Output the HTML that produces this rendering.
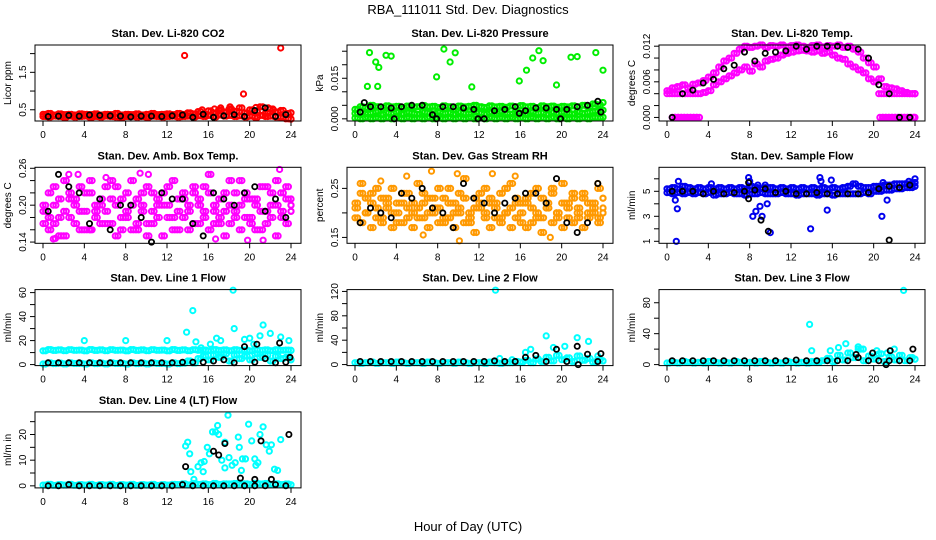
<!DOCTYPE html>
<html><head><meta charset="utf-8"><style>
body{margin:0;background:#fff}
svg{display:block;font-family:"Liberation Sans",Arial,sans-serif}
</style></head><body>
<svg id="c" width="936" height="540">
<text x="468" y="14" text-anchor="middle" font-size="13">RBA_111011  Std. Dev. Diagnostics</text>
<text x="468" y="531" text-anchor="middle" font-size="13">Hour of Day (UTC)</text>
</svg>
<script>
const HOURS=[0,0.5,1,1.5,2,2.5,3,3.5,4,4.5,5,5.5,6,6.5,7,7.5,8,8.5,9,9.5,10,10.5,11,11.5,12,12.5,13,13.5,14,14.5,15,15.5,16,16.5,17,17.5,18,18.5,19,19.5,20,20.5,21,21.5,22,22.5,23,23.5,24];
const BLK_HOURS=[0.5,1.5,2.5,3.5,4.5,5.5,6.5,7.5,8.5,9.5,10.5,11.5,12.5,13.5,14.5,15.5,16.5,17.5,18.5,19.5,20.5,21.5,22.5,23.5];
const X_TICKS=[0,4,8,12,16,20,24];

const CO2_A=[0.38,0.40,0.36,0.39,0.37,0.38,0.36,0.39,0.38,0.37,0.39,0.36,0.38,0.37,0.40,0.36,0.38,0.37,0.39,0.36,0.38,0.40,0.37,0.38,0.39,0.37,0.40,0.38,0.42,0.39,0.45,0.38,0.47,0.42,0.50,0.44,0.52,0.46,0.55,0.42,0.50,0.45,0.58,0.40,0.52,0.44,0.48,0.40,0.42];
const CO2_B=[0.32,0.31,0.33,0.32,0.30,0.33,0.31,0.32,0.33,0.30,0.32,0.31,0.33,0.32,0.31,0.30,0.32,0.33,0.31,0.32,0.30,0.33,0.32,0.31,0.32,0.33,0.31,0.32,0.33,0.31,0.34,0.32,0.35,0.31,0.36,0.33,0.35,0.32,0.34,0.31,0.33,0.30,0.35,0.32,0.33,0.31,0.30,0.26,0.25];
const CO2_OUT_X=[13.7,23.0,19.4,15.4,16.6,17.2,18.1,20.6,21.8,22.3];
const CO2_OUT_Y=[1.95,2.15,0.92,0.50,0.52,0.55,0.58,0.56,0.55,0.50];
const CO2_K=[0.32,0.33,0.35,0.33,0.36,0.35,0.34,0.33,0.31,0.33,0.33,0.32,0.34,0.36,0.30,0.38,0.30,0.34,0.37,0.32,0.48,0.55,0.32,0.37];

const PR_A=[0.0035,0.0045,0.0040,0.0050,0.0045,0.0042,0.0048,0.0044,0.0046,0.0040,0.0047,0.0043,0.0045,0.0049,0.0044,0.0046,0.0042,0.0048,0.0045,0.0043,0.0047,0.0044,0.0046,0.0050,0.0045,0.0042,0.0048,0.0044,0.0046,0.0043,0.0047,0.0045,0.0049,0.0044,0.0046,0.0042,0.0048,0.0045,0.0047,0.0043,0.0046,0.0044,0.0048,0.0045,0.0050,0.0046,0.0055,0.0052,0.0060];
const PR_B=[0.0003,0.0000,0.0005,0.0000,0.0003,0.0000,0.0005,0.0000,0.0003,0.0000,0.0004,0.0000,0.0003,0.0000,0.0005,0.0000,0.0003,0.0000,0.0004,0.0000,0.0003,0.0000,0.0005,0.0000,0.0003,0.0000,0.0004,0.0000,0.0003,0.0000,0.0005,0.0000,0.0003,0.0000,0.0004,0.0000,0.0003,0.0000,0.0005,0.0000,0.0003,0.0000,0.0004,0.0000,0.0003,0.0000,0.0005,0.0004,0.0006];
const PR_C=[0.0020,0.0025,0.0018,0.0022,0.0027,0.0016,0.0023,0.0020,0.0026,0.0018,0.0024,0.0021,0.0017,0.0025,0.0022,0.0019,0.0026,0.0020,0.0023,0.0017,0.0025,0.0021,0.0019,0.0026,0.0022,0.0018,0.0024,0.0020,0.0027,0.0021,0.0018,0.0025,0.0022,0.0019,0.0026,0.0021,0.0023,0.0017,0.0025,0.0020,0.0024,0.0022,0.0018,0.0026,0.0021,0.0024,0.0028,0.0030,0.0032];
const PR_OUT_X=[1.4,2.0,2.3,1.2,2.2,3.0,3.5,8.6,9.7,9.2,7.9,11.3,17.8,17.2,18.2,16.6,15.9,19.5,20.9,21.5,23.3,24.0];
const PR_OUT_Y=[0.0245,0.0210,0.0190,0.0120,0.0120,0.0235,0.0232,0.0258,0.0244,0.0210,0.0155,0.0118,0.0252,0.0225,0.0215,0.0180,0.0140,0.0125,0.0228,0.0230,0.0245,0.0180];
const PR_K=[0.0025,0.0045,0.0045,0.0040,0.0045,0.0050,0.0050,0.0015,0.0045,0.0045,0.0040,0.0035,0.0000,0.0030,0.0035,0.0045,0.0030,0.0040,0.0040,0.0035,0.0035,0.0045,0.0050,0.0065];
const PR_KX_EXTRA=[0.9,3.8,7.9,11.9,19.9,15.9,23.8];
const PR_KY_EXTRA=[0.0060,0.0000,0.0000,0.0000,0.0000,0.0020,0.0025];

const TM_A=[0.0045,0.0050,0.0052,0.0055,0.0050,0.0056,0.0058,0.0062,0.0068,0.0075,0.0085,0.0095,0.0100,0.0108,0.0115,0.0120,0.0118,0.0120,0.0122,0.0118,0.0121,0.0120,0.0122,0.0119,0.0121,0.0122,0.0120,0.0118,0.0121,0.0122,0.0119,0.0121,0.0120,0.0122,0.0118,0.0120,0.0115,0.0110,0.0100,0.0092,0.0085,0.0065,0.0052,0.0050,0.0048,0.0045,0.0042,0.0040,0.0040];
const TM_B=[0.0040,0.0040,0.0040,0.0040,0.0040,0.0040,0.0040,0.0042,0.0045,0.0055,0.0060,0.0065,0.0070,0.0075,0.0080,0.0085,0.0078,0.0090,0.0085,0.0095,0.0098,0.0100,0.0105,0.0108,0.0110,0.0112,0.0113,0.0112,0.0110,0.0112,0.0108,0.0110,0.0105,0.0100,0.0098,0.0090,0.0085,0.0080,0.0075,0.0065,0.0060,0.0040,0.0040,0.0040,0.0040,0.0040,0.0040,0.0040,0.0040];
const TM_ZERO_X=[0.5,0.8,1.1,1.4,1.7,2.0,2.3,2.6,2.9,20.6,20.9,21.2,21.5,21.8,22.1,22.4,22.7,23.0,23.3,23.6,23.9];
const TM_ZERO_Y=[0,0,0,0,0,0,0,0,0,0,0,0,0,0,0,0,0,0,0,0,0];
const TM_K=[0.0000,0.0040,0.0046,0.0058,0.0064,0.0082,0.0088,0.0110,0.0095,0.0108,0.0110,0.0112,0.0120,0.0115,0.0120,0.0120,0.0120,0.0118,0.0115,0.0100,0.0055,0.0040,0.0000,0.0000];

const AM_A=[0.19,0.22,0.17,0.21,0.24,0.18,0.20,0.23,0.16,0.22,0.19,0.21,0.17,0.24,0.20,0.18,0.22,0.16,0.21,0.19,0.23,0.17,0.20,0.22,0.18,0.24,0.19,0.21,0.16,0.23,0.20,0.18,0.22,0.17,0.21,0.19,0.24,0.18,0.20,0.22,0.17,0.21,0.19,0.23,0.18,0.20,0.22,0.17,0.21];
const AM_B=[0.17,0.16,0.20,0.18,0.15,0.21,0.17,0.19,0.22,0.16,0.18,0.20,0.23,0.17,0.15,0.21,0.18,0.20,0.16,0.22,0.17,0.19,0.21,0.15,0.20,0.18,0.16,0.22,0.19,0.17,0.21,0.23,0.16,0.19,0.17,0.15,0.20,0.22,0.16,0.18,0.21,0.16,0.23,0.17,0.20,0.15,0.18,0.21,0.19];
const AM_C=[0.20,0.18,0.23,0.15,0.19,0.22,0.21,0.16,0.19,0.24,0.20,0.17,0.19,0.21,0.23,0.16,0.19,0.24,0.17,0.20,0.15,0.22,0.18,0.20,0.23,0.16,0.21,0.18,0.20,0.22,0.17,0.19,0.25,0.20,0.18,0.22,0.17,0.19,0.24,0.21,0.18,0.20,0.16,0.19,0.22,0.24,0.19,0.23,0.20];
const AM_OUT_X=[2.5,3.4,10.2,9.4,19.8,21.3,22.9,16.7,1.0,1.2,4.6,6.1];
const AM_OUT_Y=[0.250,0.250,0.250,0.252,0.143,0.143,0.258,0.145,0.145,0.146,0.160,0.245];
const AM_K=[0.19,0.25,0.23,0.22,0.17,0.21,0.16,0.20,0.20,0.18,0.14,0.22,0.21,0.21,0.17,0.15,0.22,0.21,0.20,0.22,0.23,0.19,0.21,0.18];

const RH_A=[0.22,0.26,0.20,0.24,0.19,0.23,0.21,0.25,0.18,0.22,0.24,0.20,0.26,0.19,0.23,0.21,0.25,0.18,0.22,0.20,0.24,0.27,0.19,0.23,0.21,0.25,0.22,0.19,0.24,0.20,0.26,0.22,0.18,0.23,0.21,0.25,0.19,0.22,0.24,0.20,0.26,0.21,0.23,0.19,0.24,0.22,0.20,0.25,0.23];
const RH_B=[0.19,0.18,0.23,0.17,0.21,0.18,0.22,0.17,0.20,0.18,0.21,0.17,0.19,0.22,0.17,0.20,0.18,0.23,0.19,0.17,0.21,0.18,0.20,0.16,0.22,0.19,0.17,0.21,0.18,0.20,0.17,0.19,0.22,0.17,0.18,0.20,0.16,0.21,0.18,0.19,0.17,0.22,0.18,0.20,0.17,0.19,0.21,0.18,0.20];
const RH_C=[0.21,0.24,0.20,0.22,0.25,0.19,0.23,0.20,0.22,0.24,0.19,0.22,0.21,0.24,0.20,0.23,0.21,0.19,0.25,0.22,0.20,0.23,0.18,0.21,0.24,0.20,0.23,0.22,0.19,0.25,0.21,0.23,0.20,0.22,0.24,0.19,0.23,0.21,0.25,0.20,0.22,0.19,0.24,0.21,0.23,0.20,0.22,0.19,0.21];
const RH_OUT_X=[5.0,7.4,9.9,13.3,15.5,6.6,23.5,10.1,2.5,18.9];
const RH_OUT_Y=[0.275,0.285,0.280,0.280,0.275,0.155,0.260,0.143,0.265,0.150];
const RH_K=[0.18,0.21,0.20,0.19,0.24,0.23,0.25,0.21,0.20,0.17,0.26,0.23,0.22,0.20,0.22,0.23,0.24,0.24,0.22,0.27,0.18,0.16,0.18,0.26];

const SF_A=[5.2,5.3,5.2,5.4,5.3,5.2,5.3,5.2,5.3,5.2,5.3,5.2,5.3,5.2,5.3,5.2,5.4,5.3,5.2,5.3,5.3,5.2,5.3,5.2,5.3,5.2,5.3,5.2,5.3,5.2,5.3,5.2,5.3,5.2,5.3,5.4,5.6,5.4,5.3,5.3,5.4,5.4,5.5,5.5,5.6,5.6,5.6,5.6,5.7];
const SF_B=[4.9,4.8,4.9,4.8,4.9,4.8,4.9,4.8,4.9,4.7,4.8,4.8,4.9,4.8,4.8,4.7,4.8,4.8,4.9,4.8,4.8,4.8,4.9,4.8,4.8,4.7,4.8,4.8,4.8,4.7,4.8,4.8,4.7,4.8,4.8,4.8,4.8,4.8,4.9,4.8,5.0,5.0,5.1,5.1,5.2,5.2,5.3,5.3,5.4];
const SF_OUT_X=[0.9,1.0,1.1,0.8,7.9,8.0,8.3,8.6,8.8,9.0,9.2,9.5,9.7,10.0,13.9,14.8,14.9,15.9,15.5,20.8,20.9,24.0,23.4,21.3,4.3];
const SF_OUT_Y=[1.0,3.6,5.8,4.3,6.1,5.8,3.0,3.4,5.5,3.8,3.0,5.5,4.0,1.7,2.0,6.1,5.8,5.9,3.5,3.0,5.7,6.0,5.8,4.3,5.6];
const SF_K=[5.0,5.0,5.0,4.8,5.0,4.8,4.9,5.0,5.1,5.2,4.9,5.0,4.8,4.8,4.9,4.8,4.8,4.8,4.8,4.9,5.2,5.4,5.3,5.5];
const SF_KX_EXTRA=[7.9,7.9,9.1,9.8,21.5];
const SF_KY_EXTRA=[5.7,4.4,2.7,1.8,1.1];

const L1_A=[11.5,12.5,11.8,12.2,11.6,12.4,11.9,12.1,11.5,12.5,11.8,12.2,11.6,12.4,11.9,12.1,11.5,12.5,11.8,12.2,11.6,12.4,11.9,12.1,11.5,12.5,11.8,12.2,11.6,12.4,11.9,12.1,11.5,12.5,11.8,12.2,11.6,12.4,11.9,12.1,11.5,12.5,11.8,12.2,11.6,12.4,11.9,12.1,11.8];
const L1_B=[0.5,1.5,0.8,1.2,0.6,1.4,0.9,1.1,0.5,1.5,0.8,1.2,0.6,1.4,0.9,1.1,0.5,1.5,0.8,1.2,0.6,1.4,0.9,1.1,0.5,1.5,0.8,1.2,3.0,1.4,5.0,7.0,4.0,8.0,6.0,9.0,3.0,8.0,5.0,7.0,4.0,9.0,6.0,8.0,3.0,7.0,5.0,6.0,4.0];
const L1_OUT_X=[4.0,8.0,12.0,13.9,14.5,18.4,18.5,19.5,20.0,21.0,21.3,22.0,23.0,23.8,17.2,16.2,15.3,14.8,16.8,20.4];
const L1_OUT_Y=[20,20,20,27,45,62,30,21,22,24,33,26,23,20,20,17,14,19,22,17];
const L1_K=[1.5,1.5,1.5,1.5,1.5,1.5,1.5,1.5,1.5,1.5,1.5,1.5,1.5,2,2,2,3,4,1.5,15,2,5,1.5,2];
const L1_KX_EXTRA=[20.7,22.9,23.9];
const L1_KY_EXTRA=[17,18,6];

const L2_A=[3,2,3,4,2,3,3,2,4,3,2,3,3,2,4,3,2,3,3,2,4,3,2,3,3,2,4,3,2,3,3,5,4,7,3,9,5,12,6,15,8,11,5,14,7,10,4,8,6];
const L2_OUT_X=[13.6,18.5,21.5,22.6,16.5,17.0,19.2,20.3,14.0,15.2,23.5];
const L2_OUT_Y=[122,47,44,38,20,25,28,30,10,8,14];
const L2_K=[5,5,5,5,5,5,5,5,5,5,5,5,5,6,5,5,12,15,5,25,5,30,17,5];
const L2_KX_EXTRA=[23.8,21.6];
const L2_KY_EXTRA=[18,0];

const L3_A=[2,3,2,4,3,2,3,2,4,3,2,3,2,4,3,2,3,2,4,3,2,3,2,4,3,2,3,2,4,3,5,8,4,12,6,15,9,20,5,11,7,14,4,10,6,12,5,9,7];
const L3_OUT_X=[13.8,22.9,17.3,15.8,14.0,18.5,20.3,22.0,16.6,19.0,21.3];
const L3_OUT_Y=[52,96,27,18,18,23,18,20,22,20,15];
const L3_K=[5,5,5,5,5,5,5,5,5,5,5,5,6,5,5,5,5,5,9,5,5,5,5,5];
const L3_KX_EXTRA=[23.8,21.6,19.9,21.2,18.3];
const L3_KY_EXTRA=[20,18,15,0,13];

const L4_A=[0.3,0.6,0.2,0.5,0.3,0.6,0.2,0.5,0.3,0.6,0.2,0.5,0.3,0.6,0.2,0.5,0.3,0.6,0.2,0.5,0.3,0.6,0.2,0.5,0.3,0.6,0.5,0.8,0.4,0.9,0.6,0.8,0.5,0.9,0.6,0.8,0.7,0.9,0.5,0.8,0.6,1.0,0.7,0.9,0.6,0.8,0.5,0.7,0.4];
const L4_OUT_X=[13.8,14.0,14.2,14.6,15.0,15.3,15.6,15.9,16.1,16.4,16.7,16.9,17.0,17.3,17.6,17.9,18.0,18.3,18.6,18.9,19.0,19.3,19.6,19.9,20.2,20.5,20.8,21.0,21.3,21.6,21.9,22.1,22.4,22.7,23.0,14.3,15.5,17.6,19.2,20.6];
const L4_OUT_Y=[15.5,17,12.5,2.5,7.5,9,9.5,15,12.5,21,21,23.5,20,10,17,27.5,11,8,9,19,15,10.5,10.5,24,17.5,10.5,9,20,23,16,13.5,16,6.5,6,18,5.5,5.5,7,6,8];
const L4_K=[0,0,0.5,0,0,0,0,0,0,0,0,0,0,0.5,0,0,0,0,0,0,0,0,0.5,0];
const L4_KX_EXTRA=[13.8,16.5,17.0,17.6,19.1,20.5,21.1,22.1,23.8];
const L4_KY_EXTRA=[7.5,13.5,12,16.5,3,2.5,17.5,2.5,20];

const svg=document.getElementById('c');
const NS='http://www.w3.org/2000/svg';
function mk(tag,attrs,parent){const e=document.createElementNS(NS,tag);for(const k in attrs)e.setAttribute(k,attrs[k]);(parent||svg).appendChild(e);return e;}

const panels=[
 {key:'co2',title:'Stan. Dev. Li-820 CO2',ylab:'Licor ppm',col:0,row:0,ymin:0.2,ymax:2.23,ticks:[0.5,1,1.5,2],labels:['0.5','','1.5',''],color:'#ff0000',
  bg:[[HOURS,CO2_A,1],[HOURS,CO2_B,1],[CO2_OUT_X,CO2_OUT_Y,0]],blk:[[BLK_HOURS,CO2_K]]},
 {key:'pressure',title:'Stan. Dev. Li-820 Pressure',ylab:'kPa',col:1,row:0,ymin:-0.0008,ymax:0.0273,ticks:[0,0.005,0.01,0.015,0.02,0.025],labels:['0.000','','','0.015','',''],color:'#00ee00',
  bg:[[HOURS,PR_A,1],[HOURS,PR_B,1],[HOURS,PR_C,1],[PR_OUT_X,PR_OUT_Y,0]],blk:[[BLK_HOURS,PR_K],[PR_KX_EXTRA,PR_KY_EXTRA]]},
 {key:'temp',title:'Stan. Dev. Li-820 Temp.',ylab:'degrees C',col:2,row:0,ymin:-0.0006,ymax:0.0122,ticks:[0,0.002,0.004,0.006,0.008,0.01,0.012],labels:['0.000','','','0.006','','','0.012'],color:'#ff00ff',
  bg:[[HOURS,TM_A,1],[HOURS,TM_B,1],[TM_ZERO_X,TM_ZERO_Y,1]],blk:[[BLK_HOURS,TM_K]]},
 {key:'ambbox',title:'Stan. Dev. Amb. Box Temp.',ylab:'degrees C',col:0,row:1,ymin:0.138,ymax:0.2616,ticks:[0.14,0.16,0.18,0.2,0.22,0.24,0.26],labels:['0.14','','','0.20','','','0.26'],color:'#ff00ff',
  bg:[[HOURS,AM_A,1],[HOURS,AM_B,1],[HOURS,AM_C,1],[AM_OUT_X,AM_OUT_Y,0]],blk:[[BLK_HOURS,AM_K]]},
 {key:'rh',title:'Stan. Dev. Gas Stream RH',ylab:'percent',col:1,row:1,ymin:0.138,ymax:0.293,ticks:[0.15,0.2,0.25],labels:['0.15','','0.25'],color:'#ff9900',
  bg:[[HOURS,RH_A,1],[HOURS,RH_B,1],[HOURS,RH_C,1],[RH_OUT_X,RH_OUT_Y,0]],blk:[[BLK_HOURS,RH_K]]},
 {key:'sampleflow',title:'Stan. Dev. Sample Flow',ylab:'ml/min',col:2,row:1,ymin:0.84,ymax:6.92,ticks:[1,2,3,4,5,6],labels:['1','','3','','5',''],color:'#0000ee',
  bg:[[HOURS,SF_A,1],[HOURS,SF_B,1],[SF_OUT_X,SF_OUT_Y,0]],blk:[[BLK_HOURS,SF_K],[SF_KX_EXTRA,SF_KY_EXTRA]]},
 {key:'line1',title:'Stan. Dev. Line 1 Flow',ylab:'ml/min',col:0,row:2,ymin:-0.85,ymax:62.5,ticks:[0,10,20,30,40,50,60],labels:['0','','20','','40','','60'],color:'#00ffff',
  bg:[[HOURS,L1_A,1],[HOURS,L1_B,1],[L1_OUT_X,L1_OUT_Y,0]],blk:[[BLK_HOURS,L1_K],[L1_KX_EXTRA,L1_KY_EXTRA]]},
 {key:'line2',title:'Stan. Dev. Line 2 Flow',ylab:'ml/min',col:1,row:2,ymin:-1.7,ymax:123,ticks:[0,20,40,60,80,100,120],labels:['0','','40','','80','','120'],color:'#00ffff',
  bg:[[HOURS,L2_A,1],[L2_OUT_X,L2_OUT_Y,0]],blk:[[BLK_HOURS,L2_K],[L2_KX_EXTRA,L2_KY_EXTRA]]},
 {key:'line3',title:'Stan. Dev. Line 3 Flow',ylab:'ml/min',col:2,row:2,ymin:-1.3,ymax:97,ticks:[0,20,40,60,80],labels:['0','','40','','80'],color:'#00ffff',
  bg:[[HOURS,L3_A,1],[L3_OUT_X,L3_OUT_Y,0]],blk:[[BLK_HOURS,L3_K],[L3_KX_EXTRA,L3_KY_EXTRA]]},
 {key:'line4',title:'Stan. Dev. Line 4 (LT) Flow',ylab:'ml/m in',col:0,row:3,ymin:-0.8,ymax:28.8,ticks:[0,5,10,15,20,25],labels:['0','','10','','20',''],color:'#00ffff',
  bg:[[HOURS,L4_A,1],[L4_OUT_X,L4_OUT_Y,0]],blk:[[BLK_HOURS,L4_K],[L4_KX_EXTRA,L4_KY_EXTRA]]}
];

panels.forEach(p=>{
  const bx=35+p.col*312, by=45+p.row*122.3, bw=266, bh=76;
  const g=mk('g',{});
  
  
  const xs=h=>bx+8+h*248/24;
  const ys=v=>by+bh-(v-p.ymin)/(p.ymax-p.ymin)*bh;
  const t=mk('text',{x:bx+bw/2,y:by-8,'text-anchor':'middle','font-size':11,'font-weight':'bold'},g);
  t.textContent=p.title;
  
  
  const cg=mk('g',{},g);
  
  
  p.bg.forEach(([X,Y,dense])=>{
    const offs=dense?[0,0.25]:[0];
    for(let i=0;i<Math.min(X.length,Y.length);i++){
      offs.forEach(o=>{
        const hx=Math.min(24,X[i]+o);
        const c=mk('circle',{cx:xs(hx).toFixed(1),cy:ys(Y[i]).toFixed(1),r:2.6,fill:'none',stroke:p.color,'stroke-width':2},cg);
        
        
      });
    }
  });
  p.blk.forEach(([X,Y])=>{
    for(let i=0;i<Math.min(X.length,Y.length);i++){
      const c=mk('circle',{cx:xs(X[i]).toFixed(1),cy:ys(Y[i]).toFixed(1),r:2.6,fill:'none',stroke:'#000','stroke-width':1.8},cg);
      
      
    }
  });
  const b=mk('rect',{x:bx,y:by,width:bw,height:bh,fill:'none',stroke:'#000','stroke-width':1},g);
  
  
  X_TICKS.forEach(h=>{
    const x=xs(h);
    mk('line',{x1:x,x2:x,y1:by+bh,y2:by+bh+5,stroke:'#000'},g);
    const tl=mk('text',{x:x,y:by+bh+17,'text-anchor':'middle','font-size':10},g);
    tl.textContent=h;
    
    
  });
  p.ticks.forEach((v,i)=>{
    const y=ys(v);
    mk('line',{x1:bx-5,x2:bx,y1:y,y2:y,stroke:'#000'},g);
    if(p.labels[i]){
      const tl=mk('text',{x:bx-9,y:y,'text-anchor':'middle','font-size':10,transform:`rotate(-90 ${bx-9} ${y})`},g);
      tl.textContent=p.labels[i];
      
      
    }
  });
  const yl=mk('text',{x:bx-24,y:by+bh/2,'text-anchor':'middle','font-size':10,transform:`rotate(-90 ${bx-24} ${by+bh/2})`},g);
  yl.textContent=p.ylab;
  
  
});
</script>
</body></html>
